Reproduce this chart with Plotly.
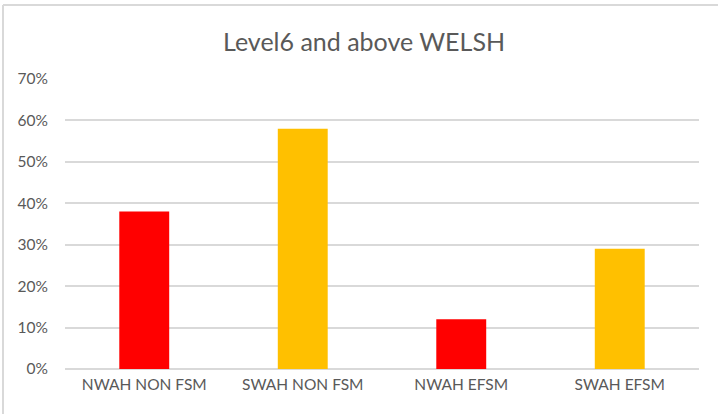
import plotly.graph_objects as go

categories = ["NWAH NON FSM", "SWAH NON FSM", "NWAH EFSM", "SWAH EFSM"]
values = [0.38, 0.58, 0.12, 0.29]
bar_colors = ["#FF0000", "#FFC000", "#FF0000", "#FFC000"]
tick_vals = [0, 0.1, 0.2, 0.3, 0.4, 0.5, 0.6, 0.7]

W, H = 718, 414
ML, MR, MT, MB = 65, 19, 79, 45
pw, ph = W - ML - MR, H - MT - MB

fig = go.Figure(go.Bar(
    x=categories,
    y=values,
    marker=dict(color=bar_colors, line=dict(width=0)),
    width=0.315,
    hoverinfo="skip",
))

# outer chart frame (left and top edges visible)
fx0 = (3 - ML) / pw
fy1 = 1 + (MT - 5) / ph
fig.add_shape(type="line", xref="paper", yref="paper",
              x0=fx0, x1=fx0, y0=-1, y1=fy1,
              line=dict(color="#d9d9d9", width=2))
fig.add_shape(type="line", xref="paper", yref="paper",
              x0=fx0, x1=2, y0=fy1, y1=fy1,
              line=dict(color="#d9d9d9", width=2))

fig.update_layout(
    width=W, height=H,
    margin=dict(l=ML, r=MR, t=MT, b=MB),
    paper_bgcolor="white",
    plot_bgcolor="white",
    font=dict(family="Lato, Open Sans, sans-serif", color="#595959", size=15.5),
    title=dict(text="Level6 and above WELSH", x=0.507, xanchor="center",
               y=1 - 42 / H, yanchor="middle",
               font=dict(size=25, color="#595959")),
    showlegend=False,
    xaxis=dict(showgrid=False, showline=False, ticks="", zeroline=False,
               ticklabelstandoff=4),
    yaxis=dict(range=[0, 0.7], tickvals=tick_vals, tickformat=".0%",
               showgrid=True, gridcolor="#d9d9d9", gridwidth=2,
               zeroline=True, zerolinecolor="#d9d9d9", zerolinewidth=2,
               showline=False, ticks="", ticklabelstandoff=16),
)

fig.write_html("out.html")
